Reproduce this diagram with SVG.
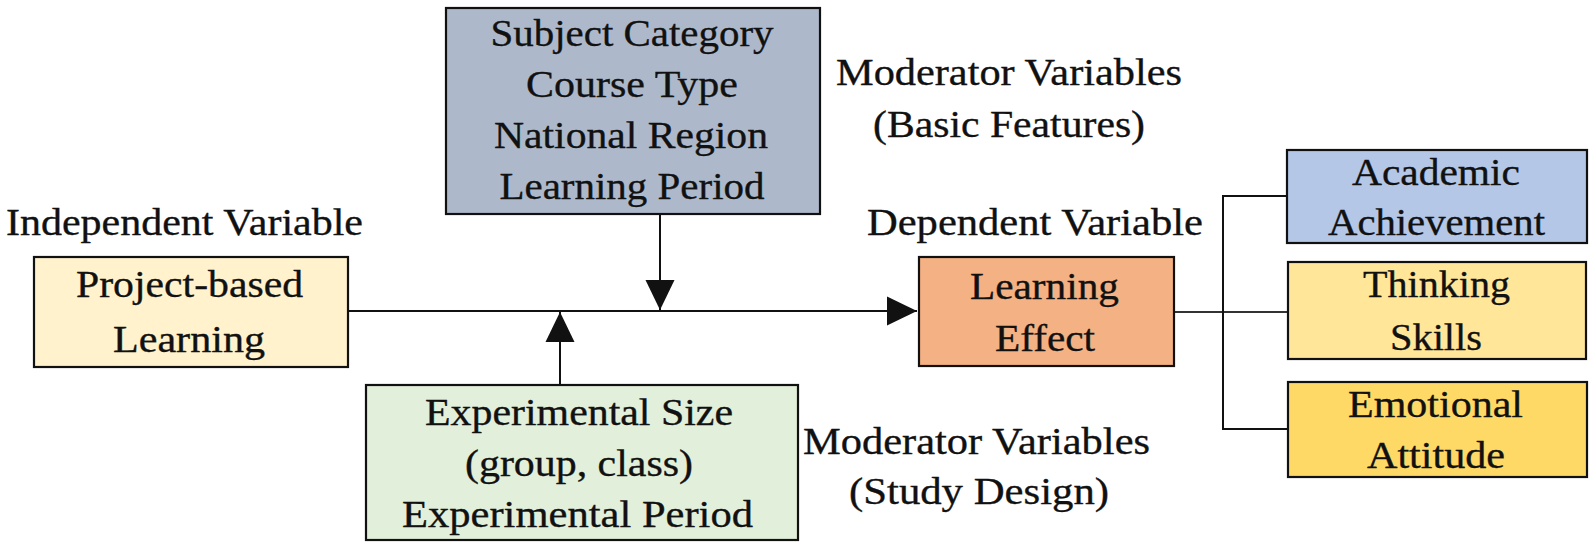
<svg xmlns="http://www.w3.org/2000/svg" width="1595" height="547" viewBox="0 0 1595 547">
  <style>
    text { font-family: "Liberation Serif", "Times New Roman", serif; font-size: 38px; fill: #111; stroke: #111; stroke-width: 0.35; text-anchor: middle; }
    .lbl { text-anchor: start; }
    .box { stroke: #111; stroke-width: 2.2; }
    .conn { stroke: #111; stroke-width: 2; fill: none; }
  </style>
  <defs>
    <marker id="arr" markerUnits="userSpaceOnUse" viewBox="0 0 30 30" refX="30" refY="15" markerWidth="30" markerHeight="30" orient="auto">
      <path d="M0,0.5 L30,15 L0,29.5 z" fill="#111"/>
    </marker>
  </defs>
  <rect width="1595" height="547" fill="#ffffff"/>

  <g id="connectors">
    <line class="conn" x1="348" y1="311" x2="917" y2="311" marker-end="url(#arr)"/>
    <line class="conn" x1="660" y1="215" x2="660" y2="310" marker-end="url(#arr)"/>
    <line class="conn" x1="560" y1="384" x2="560" y2="312" marker-end="url(#arr)"/>
    <line x1="1174" y1="312" x2="1288" y2="312" stroke="#333" stroke-width="2"/>
    <polyline class="conn" points="1287,196 1223,196 1223,429 1288,429"/>
  </g>

  <g id="subject">
    <rect class="box" x="446" y="8" width="374" height="206" fill="#ADB9CA"/>
    <text x="632" y="46" textLength="283" lengthAdjust="spacingAndGlyphs">Subject Category</text>
    <text x="632" y="97" textLength="212" lengthAdjust="spacingAndGlyphs">Course Type</text>
    <text x="631" y="148" textLength="274" lengthAdjust="spacingAndGlyphs">National Region</text>
    <text x="632" y="199" textLength="265" lengthAdjust="spacingAndGlyphs">Learning Period</text>
  </g>

  <g id="moderator-basic">
    <text x="1009" y="85" textLength="346" lengthAdjust="spacingAndGlyphs">Moderator Variables</text>
    <text x="1009" y="137" textLength="272" lengthAdjust="spacingAndGlyphs">(Basic Features)</text>
  </g>

  <g id="independent">
    <text class="lbl" x="6" y="235" textLength="357" lengthAdjust="spacingAndGlyphs">Independent Variable</text>
    <rect class="box" x="34" y="257" width="314" height="110" fill="#FFF2CC"/>
    <text x="189.5" y="297" textLength="227" lengthAdjust="spacingAndGlyphs">Project-based</text>
    <text x="189" y="352" textLength="152" lengthAdjust="spacingAndGlyphs">Learning</text>
  </g>

  <g id="dependent">
    <text class="lbl" x="867" y="235" textLength="336" lengthAdjust="spacingAndGlyphs">Dependent Variable</text>
    <rect class="box" x="919" y="257" width="255" height="109" fill="#F4B183"/>
    <text x="1044.5" y="299" textLength="149" lengthAdjust="spacingAndGlyphs">Learning</text>
    <text x="1045" y="351" textLength="100" lengthAdjust="spacingAndGlyphs">Effect</text>
  </g>

  <g id="academic">
    <rect class="box" x="1287" y="150" width="300" height="93" fill="#B4C7E7"/>
    <text x="1436" y="185" textLength="168" lengthAdjust="spacingAndGlyphs">Academic</text>
    <text x="1436.5" y="235" textLength="217" lengthAdjust="spacingAndGlyphs">Achievement</text>
  </g>

  <g id="thinking">
    <rect class="box" x="1288" y="262" width="298" height="97" fill="#FFE699"/>
    <text x="1436.5" y="297" textLength="147" lengthAdjust="spacingAndGlyphs">Thinking</text>
    <text x="1436" y="350" textLength="92" lengthAdjust="spacingAndGlyphs">Skills</text>
  </g>

  <g id="emotional">
    <rect class="box" x="1288" y="382" width="299" height="95" fill="#FFD966"/>
    <text x="1435.5" y="417" textLength="175" lengthAdjust="spacingAndGlyphs">Emotional</text>
    <text x="1436" y="468" textLength="138" lengthAdjust="spacingAndGlyphs">Attitude</text>
  </g>

  <g id="experimental">
    <rect class="box" x="366" y="385" width="432" height="155" fill="#E2EFDA"/>
    <text x="579" y="425" textLength="308" lengthAdjust="spacingAndGlyphs">Experimental Size</text>
    <text x="579" y="476" textLength="228" lengthAdjust="spacingAndGlyphs">(group, class)</text>
    <text x="577.5" y="527" textLength="351" lengthAdjust="spacingAndGlyphs">Experimental Period</text>
  </g>

  <g id="moderator-design">
    <text x="976.5" y="454" textLength="347" lengthAdjust="spacingAndGlyphs">Moderator Variables</text>
    <text x="979" y="504" textLength="260" lengthAdjust="spacingAndGlyphs">(Study Design)</text>
  </g>
</svg>
